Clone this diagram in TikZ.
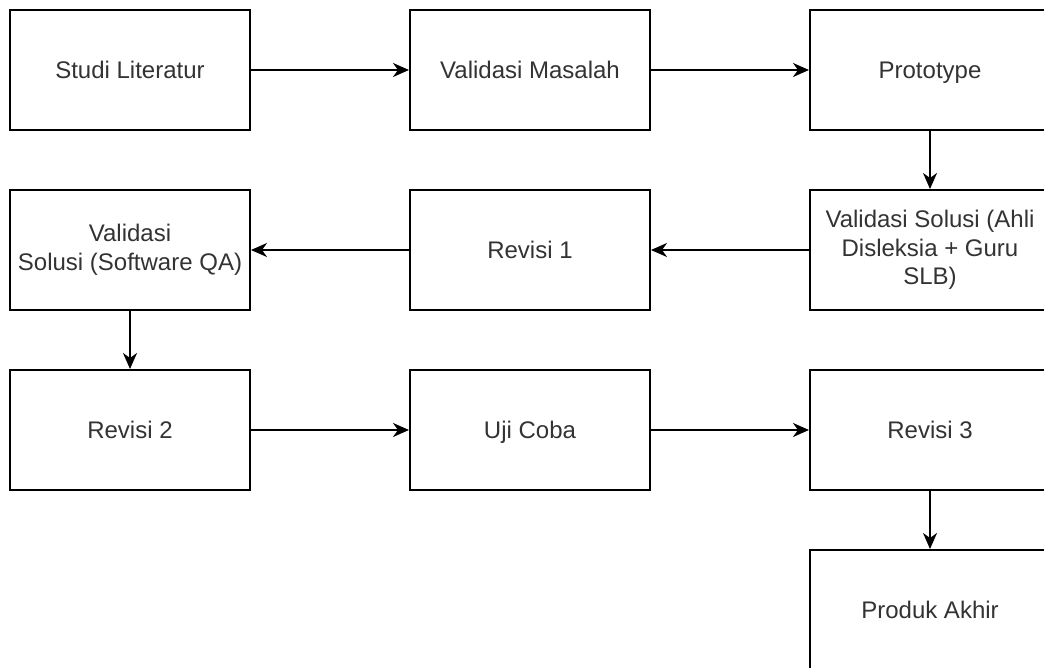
\documentclass[tikz,border=0pt]{standalone}
\usepackage{fontspec}
\setmainfont{Liberation Sans}
\usetikzlibrary{arrows.meta,positioning}
\definecolor{textgray}{HTML}{333333}
\newcommand{\boxstrut}{\rule[-5pt]{0pt}{27pt}}

\begin{document}
\begin{tikzpicture}[->,>={Stealth[length=16pt,width=14pt,inset=5pt]},line width=2pt,
	                    node distance=400pt,font=\fontsize{24}{28.8}\selectfont]
	  \tikzstyle{stepbox}=[draw=black,fill=white,text=textgray,align=center,
	                       minimum width=240pt,minimum height=120pt,inner sep=0pt,
	                       execute at begin node=\boxstrut,execute at end node=\boxstrut]
	  \clip (0pt,0pt) rectangle (1044pt,-668pt);
	  \useasboundingbox (0pt,0pt) rectangle (1044pt,-668pt);

	  \node[stepbox] (lit)   at (130pt,-70pt)  {Studi Literatur};
	  \node[stepbox] (valm)  [right of=lit]   {Validasi Masalah};
	  \node[stepbox] (proto) [right of=valm]  {Prototype};
	  \node[stepbox] (vals1) [below of=proto,node distance=180pt]
	                 {Validasi Solusi (Ahli\\Disleksia + Guru\\SLB)};
	  \node[stepbox] (rev1)  [left of=vals1]  {Revisi 1};
	  \node[stepbox] (vals2) [left of=rev1]   {Validasi\\Solusi (Software QA)};
	  \node[stepbox] (rev2)  [below of=vals2,node distance=180pt] {Revisi 2};
	  \node[stepbox] (uji)   [right of=rev2]  {Uji Coba};
	  \node[stepbox] (rev3)  [right of=uji]   {Revisi 3};
	  \node[stepbox] (akhir) [below of=rev3,node distance=180pt] {Produk Akhir};

	  \path (lit)   edge (valm)
	        (valm)  edge (proto)
	        (proto) edge (vals1)
	        (vals1) edge (rev1)
	        (rev1)  edge (vals2)
	        (vals2) edge (rev2)
	        (rev2)  edge (uji)
	        (uji)   edge (rev3)
	        (rev3)  edge (akhir);
	\end{tikzpicture}
\end{document}
